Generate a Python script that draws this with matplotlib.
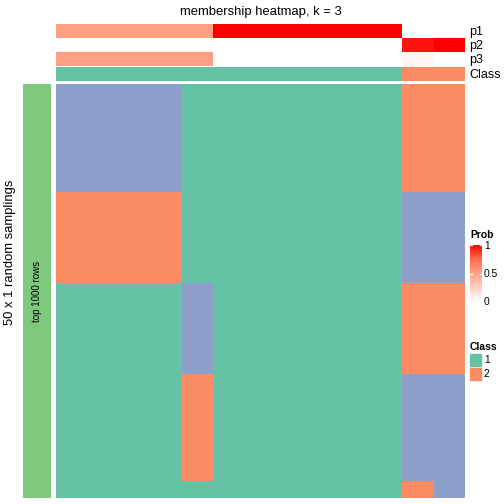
import numpy as np
import matplotlib
matplotlib.use("Agg")
import matplotlib.pyplot as plt
from matplotlib.colors import ListedColormap, LinearSegmentedColormap

plt.rcParams['font.family'] = ['Liberation Sans', 'DejaVu Sans']

# membership probabilities for the 13 samples
p1 = [0.5, 0.5, 0.5, 0.5, 0.5, 1, 1, 1, 1, 1, 1, 0, 0]
p2 = [0, 0, 0, 0, 0, 0, 0, 0, 0, 0, 0, 0.95, 1]
p3 = [0.5, 0.5, 0.5, 0.5, 0.5, 0, 0, 0, 0, 0, 0, 0.05, 0]
final_class = [1, 1, 1, 1, 1, 1, 1, 1, 1, 1, 1, 2, 2]

# class labels over the 50 random samplings, one list per column pattern
col_a = [3] * 13 + [2] * 11 + [1] * 26
col_b = [1] * 24 + [3] * 11 + [2] * 13 + [1] * 2
col_c = [1] * 50
col_d = [2] * 13 + [3] * 11 + [2] * 11 + [3] * 13 + [2] * 2
col_e = [2] * 13 + [3] * 11 + [2] * 11 + [3] * 15
columns = [col_a, col_a, col_a, col_a, col_b,
           col_c, col_c, col_c, col_c, col_c, col_c,
           col_d, col_e]

class_colors = {1: "#66C2A5", 2: "#FC8D62", 3: "#8DA0CB"}
prob_cmap = LinearSegmentedColormap.from_list(
    "prob", [(0, "#FFFFFF"), (0.25, "#FFD0C2"), (0.5, "#FFA084"),
             (0.75, "#FF6A4B"), (1, "#FF0000")])
class_cmap = ListedColormap([class_colors[1], class_colors[2], class_colors[3]])

W, H = 504, 504
fig = plt.figure(figsize=(W / 100, H / 100), dpi=100)


def box(x0, y0, x1, y1):
    ax = fig.add_axes([x0 / W, 1 - y1 / H, (x1 - x0) / W, (y1 - y0) / H])
    ax.set_axis_off()
    return ax


x0, x1 = 56, 465

# top annotations
rows = [(p1, 24, 38, "p1"), (p2, 38, 52, "p2"), (p3, 52, 66, "p3")]
for vals, ya, yb, name in rows:
    ax = box(x0, ya, x1, yb)
    ax.imshow(np.array([vals]), cmap=prob_cmap, vmin=0, vmax=1,
              aspect="auto", interpolation="nearest")
    fig.text(469 / W, 1 - ((ya + yb) / 2 + 1) / H, name, fontsize=9,
             va="center", ha="left")

ax = box(x0, 67, x1, 81)
ax.imshow(np.array([final_class]) - 1, cmap=class_cmap, vmin=0, vmax=2,
          aspect="auto", interpolation="nearest")
fig.text(469 / W, 1 - 75 / H, "Class", fontsize=9, va="center", ha="left")

# main heatmap
mat = np.array(columns).T - 1
ax = box(x0, 84, x1, 498)
ax.imshow(mat, cmap=class_cmap, vmin=0, vmax=2, aspect="auto",
          interpolation="nearest")

# left block
ax = box(23, 84, 51, 498)
ax.add_patch(plt.Rectangle((0, 0), 1, 1, color="#7FC97F"))
ax.set_xlim(0, 1)
ax.set_ylim(0, 1)
ax.text(0.5, 0.5, "top 1000 rows", rotation=90, fontsize=7,
        ha="center", va="center")

fig.text(10 / W, 1 - 252 / H, "50 x 1 random samplings", rotation=90,
         fontsize=9.4, ha="center", va="center")
fig.text(261 / W, 1 - 12 / H, "membership heatmap, k = 3", fontsize=9.4,
         ha="center", va="center")

# Prob legend
fig.text(470 / W, 1 - 235 / H, "Prob", fontsize=7.4, fontweight="bold",
         ha="left", va="center")
ax = box(470, 245, 482, 302)
grad = np.linspace(1, 0, 100).reshape(-1, 1)
ax.imshow(grad, cmap=prob_cmap, vmin=0, vmax=1, aspect="auto",
          extent=[0, 1, 0, 1])
ax.set_xlim(0, 1)
ax.set_ylim(0, 1)
prob_ticks = [0, 0.5, 1]
prob_labels = ["0", "0.5", "1"]
for t, lab in zip(prob_ticks, prob_labels):
    ax.plot([0, 0.2], [t, t], color="white", lw=0.8)
    ax.plot([0.8, 1], [t, t], color="white", lw=0.8)
    fig.text(484 / W, 1 - (302 - t * 56) / H, lab,
             fontsize=7.4, ha="left", va="center")

# Class legend
fig.text(470 / W, 1 - 347 / H, "Class", fontsize=7.4, fontweight="bold",
         ha="left", va="center")
for i, c in enumerate([1, 2]):
    ya = 354 + i * 14
    fig.add_artist(plt.Rectangle((470 / W, 1 - (ya + 12) / H), 11 / W, 12 / H,
                                 color=class_colors[c], transform=fig.transFigure))
    fig.text(484 / W, 1 - (ya + 6) / H, str(c), fontsize=7.4,
             ha="left", va="center")

fig.savefig("out.png", dpi=100)
